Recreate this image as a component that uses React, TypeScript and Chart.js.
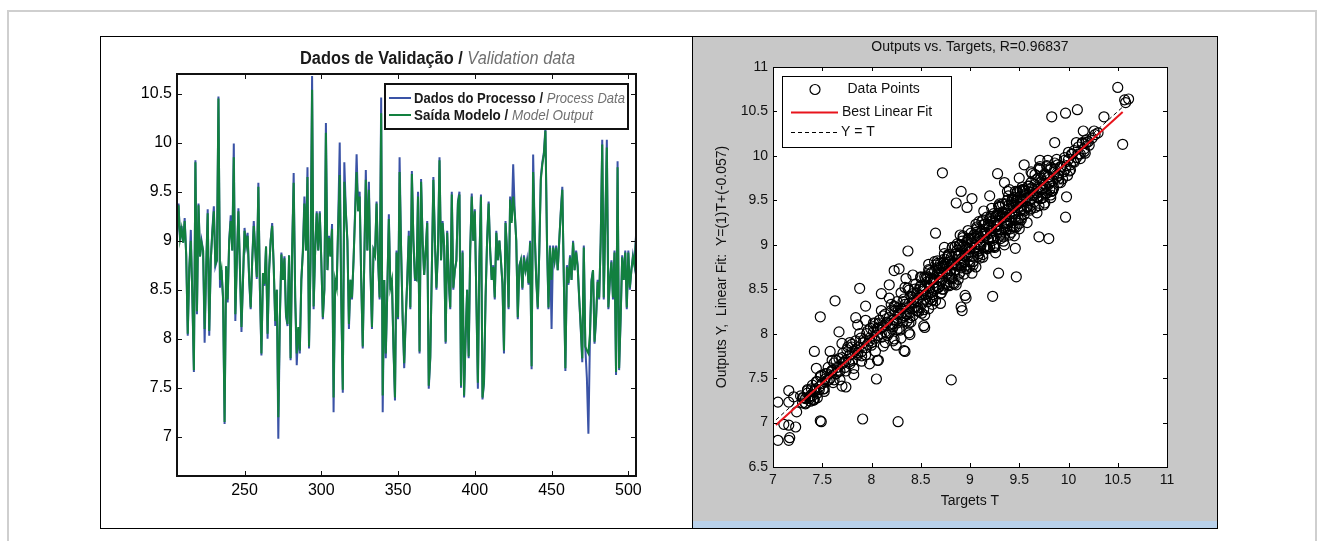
import React, { useEffect, useLayoutEffect, useRef } from "react";
import { Chart, registerables } from "chart.js";

Chart.register(...registerables);

const FONT = '"Liberation Sans", Arial, Helvetica, sans-serif';

// ---------------- Left chart: validation data ----------------
const FIRST_SAMPLE = 206;
const PROCESS_DATA = [
  9.05, 9.38,
  9.00, 9.15, 8.98, 9.23, 8.85, 8.03, 8.70, 9.11, 8.40, 7.66,
  9.82, 8.25, 9.38, 8.84, 9.00, 8.90, 7.96, 8.70, 9.32, 8.03,
  8.80, 9.10, 9.35, 8.74, 8.80, 10.47, 8.52, 8.70, 8.40, 7.13,
  8.74, 8.37, 9.00, 9.26, 8.90, 9.99, 8.18, 8.80, 9.33, 8.70,
  8.07, 8.60, 9.13, 8.95, 9.08, 8.60, 8.30, 8.80, 9.20, 8.90,
  8.61, 9.59, 8.50, 7.83, 8.67, 8.54, 8.94, 8.00, 8.70, 9.00,
  9.18, 8.74, 8.13, 8.50, 6.98, 8.20, 8.88, 8.60, 8.84, 8.23,
  8.13, 8.85, 7.78, 8.90, 9.69, 8.40, 7.73, 8.10, 7.85, 8.60,
  8.90, 9.45, 8.90, 9.75, 7.90, 8.80, 10.68, 8.30, 8.90, 9.30,
  8.90, 9.30, 8.80, 8.20, 8.50, 10.20, 8.70, 9.05, 8.84, 9.17,
  7.25, 8.60, 8.50, 9.20, 10.00, 8.40, 7.45, 9.80, 9.30, 9.00,
  8.10, 8.60, 8.40, 8.80, 9.30, 9.88, 9.30, 9.50, 8.60, 7.90,
  8.80, 9.72, 8.90, 9.60, 8.70, 8.10, 8.90, 8.85, 9.40, 8.80,
  8.40, 10.46, 7.25, 8.60, 7.80, 8.50, 9.27, 8.50, 8.60, 7.90,
  7.37, 8.90, 8.20, 9.85, 8.90, 8.20, 7.70, 8.20, 8.60, 9.10,
  8.30, 9.71, 9.00, 8.60, 8.60, 9.50, 7.85, 9.63, 9.00, 8.65,
  8.90, 9.20, 7.49, 7.80, 8.70, 9.65, 9.00, 8.50, 8.90, 9.85,
  8.80, 9.20, 8.95, 7.95, 9.10, 8.60, 8.30, 9.50, 8.50, 8.70,
  8.80, 9.40, 9.50, 7.50, 8.90, 7.40, 8.00, 8.50, 7.80, 8.90,
  9.48, 9.00, 9.32, 8.40, 7.49, 8.80, 9.47, 7.38, 7.55, 8.40,
  9.00, 9.40, 8.90, 8.60, 8.75, 8.40, 9.10, 8.80, 9.00, 8.80,
  8.55, 7.85, 9.20, 8.90, 8.30, 9.45, 9.20, 9.78, 9.30, 9.00,
  8.20, 8.75, 8.80, 8.50, 8.85, 8.70, 8.80, 8.55, 9.00, 7.69,
  9.88, 9.10, 8.60, 8.30, 8.90, 9.65, 9.80, 9.90, 10.15, 9.00,
  8.30, 8.95, 8.10, 8.95, 8.80, 8.95, 8.70, 9.00, 9.30, 9.55,
  8.60, 7.67, 8.75, 8.55, 8.85, 8.60, 9.00, 8.70, 8.90, 8.75,
  8.40, 8.10, 7.76, 8.95, 7.90, 7.60, 7.03, 8.00, 8.60, 8.70,
  7.95, 8.20, 8.60, 8.40, 9.00, 10.03, 8.40, 9.20, 10.03, 8.30,
  8.60, 8.80, 8.40, 8.90, 7.63, 9.81, 7.68, 8.20, 8.85, 8.60,
  8.90, 8.30, 8.90, 8.50, 8.70, 8.85, 8.75, 9.05,
];
const MODEL_OUTPUT = [
  9.08, 9.36,
  9.02, 9.12, 8.98, 9.20, 8.85, 8.05, 8.72, 9.00, 8.45, 7.68,
  9.80, 8.28, 9.36, 8.84, 8.98, 8.90, 8.10, 8.72, 9.28, 8.08,
  8.80, 9.08, 9.30, 8.76, 8.80, 10.45, 8.60, 8.70, 8.42, 7.15,
  8.74, 8.40, 9.00, 9.20, 8.90, 9.85, 8.25, 8.80, 9.30, 8.72,
  8.12, 8.60, 9.10, 8.95, 9.05, 8.62, 8.32, 8.80, 9.15, 8.90,
  8.63, 9.55, 8.52, 7.85, 8.67, 8.56, 8.94, 8.05, 8.70, 9.00,
  9.15, 8.74, 8.18, 8.50, 7.20, 8.22, 8.86, 8.60, 8.82, 8.25,
  8.15, 8.85, 7.80, 8.90, 9.59, 8.42, 7.85, 8.12, 7.88, 8.60,
  8.88, 9.38, 8.90, 9.65, 7.92, 8.80, 10.54, 8.33, 8.90, 9.28,
  8.90, 9.28, 8.80, 8.22, 8.50, 10.10, 8.70, 9.03, 8.84, 9.12,
  7.40, 8.60, 8.52, 9.15, 9.67, 8.42, 7.48, 9.60, 9.28, 9.00,
  8.15, 8.60, 8.42, 8.80, 9.25, 9.70, 9.30, 9.45, 8.60, 7.92,
  8.80, 9.62, 8.90, 9.52, 8.70, 8.12, 8.90, 8.85, 9.38, 8.80,
  8.42, 10.30, 7.42, 8.60, 7.85, 8.50, 9.22, 8.52, 8.60, 7.92,
  7.40, 8.88, 8.22, 9.70, 8.90, 8.22, 7.75, 8.22, 8.60, 9.05,
  8.32, 9.68, 9.00, 8.62, 8.60, 9.45, 7.87, 9.60, 9.00, 8.65,
  8.90, 9.18, 7.52, 7.82, 8.70, 9.62, 9.00, 8.52, 8.90, 9.82,
  8.80, 9.18, 8.95, 7.97, 9.08, 8.60, 8.32, 9.47, 8.52, 8.70,
  8.80, 9.38, 9.47, 7.52, 8.88, 7.42, 8.02, 8.50, 7.82, 8.90,
  9.45, 9.00, 9.30, 8.42, 7.55, 8.80, 9.45, 7.40, 7.57, 8.42,
  9.00, 9.38, 8.90, 8.60, 8.73, 8.42, 9.08, 8.80, 9.00, 8.80,
  8.57, 7.88, 9.18, 8.90, 8.32, 9.42, 9.18, 9.45, 9.28, 9.00,
  8.22, 8.73, 8.80, 8.52, 8.83, 8.70, 8.78, 8.57, 8.98, 7.72,
  9.70, 9.08, 8.62, 8.32, 8.88, 9.62, 9.78, 9.88, 10.12, 9.00,
  8.32, 8.93, 8.60, 8.93, 8.80, 8.93, 8.70, 9.00, 9.28, 9.52,
  8.60, 7.70, 8.73, 8.57, 8.83, 8.60, 8.98, 8.70, 8.88, 8.73,
  8.42, 8.12, 7.80, 8.93, 7.92, 7.88, 7.85, 8.05, 8.58, 8.70,
  7.97, 8.22, 8.58, 8.42, 8.98, 9.98, 8.42, 9.18, 9.95, 8.32,
  8.60, 8.78, 8.42, 8.88, 7.66, 9.75, 7.70, 8.22, 8.83, 8.60,
  8.88, 8.32, 8.88, 8.52, 8.70, 8.83, 8.75, 9.03,
];
const LEFT_X_RANGE = [206, 505];
const LEFT_Y_RANGE = [6.6, 10.7];
const LEFT_X_TICKS = [250, 300, 350, 400, 450, 500];
const LEFT_Y_TICKS = [7, 7.5, 8, 8.5, 9, 9.5, 10, 10.5];
const LEFT_TITLE = ["Dados de Validação / ", "Validation data"];
const LEFT_LEGEND = [
  ["Dados do Processo / ", "Process Data"],
  ["Saída Modelo / ", "Model Output"],
];
const BLUE = "#3a53a6";
const GREEN = "#12803f";

// ---------------- Right chart: regression ----------------
const TARGETS = [
  // outliers and sparse points
  7.05, 7.16, 7.17, 7.11, 7.16, 7.23, 7.24, 7.05, 7.16, 7.16,
  7.21, 7.49, 7.91, 8.27, 7.48, 7.70, 8.05, 8.81, 7.44, 8.07,
  7.42, 7.58, 8.25, 8.34, 8.33, 8.23, 8.38, 8.53, 8.54, 8.39,
  7.67, 7.84, 7.48, 7.63, 7.94, 7.88, 8.92, 8.91, 8.96, 8.95,
  9.23, 9.29, 9.47, 9.46, 8.37, 8.65, 8.86, 8.97, 8.91, 9.02,
  8.72, 9.28, 9.55, 9.71, 9.70, 9.80, 9.97, 9.68, 9.82, 9.98,
  10.01, 10.17, 9.86, 10.15, 10.26, 9.83, 9.97, 10.09, 10.36, 10.55,
  10.50, 10.57, 10.61, 10.58, 9.47, 9.52, 9.58, 9.76, 9.81, 9.20,
  9.35, 9.40, 9.50, 9.35, 9.45, 8.23, 8.28, 8.18, 8.10, 8.35,
  7.33, 7.38, 7.42, 7.40, 7.28, 7.30, 7.35, 7.45, 7.52, 7.60,
  // dense band
  7.30, 7.33, 7.35, 7.37, 7.38, 7.40, 7.41, 7.42, 7.44, 7.45,
  7.47, 7.48, 7.50, 7.52, 7.53, 7.55, 7.56, 7.58, 7.60, 7.61,
  7.62, 7.64, 7.65, 7.67, 7.68, 7.70, 7.71, 7.73, 7.74, 7.75,
  7.77, 7.78, 7.80, 7.81, 7.83, 7.84, 7.86, 7.87, 7.89, 7.90,
  7.92, 7.94,
  7.95, 7.96, 7.98, 7.99, 8.00, 8.02, 8.03, 8.04, 8.06, 8.07,
  8.08, 8.10, 8.11, 8.12, 8.14, 8.15, 8.16, 8.18, 8.19, 8.20,
  8.22, 8.23, 8.24, 8.26, 8.27, 8.28, 8.30, 8.31, 8.32, 8.34,
  8.35, 8.36, 8.38, 8.39, 8.40, 8.41, 8.42, 8.43, 8.45, 8.46,
  8.47, 8.48, 8.49,
  8.50, 8.51, 8.52, 8.53, 8.54, 8.55, 8.56, 8.57, 8.58, 8.59,
  8.60, 8.61, 8.62, 8.63, 8.64, 8.65, 8.66, 8.67, 8.68, 8.69,
  8.70, 8.71, 8.72, 8.73, 8.74, 8.75, 8.76, 8.77, 8.78, 8.79,
  8.80, 8.81, 8.82, 8.83, 8.84, 8.85, 8.86, 8.87, 8.88, 8.89,
  8.90, 8.91, 8.92, 8.93, 8.94, 8.95, 8.96, 8.97, 8.98, 8.99,
  9.00, 9.01, 9.02, 9.03, 9.04, 9.05, 9.06, 9.07, 9.08, 9.09,
  9.10, 9.11, 9.12, 9.13, 9.14, 9.15, 9.16, 9.17, 9.18, 9.19,
  9.20, 9.21, 9.22, 9.23, 9.24, 9.25, 9.26, 9.27, 9.28, 9.29,
  9.30, 9.31, 9.32, 9.33, 9.34, 9.35, 9.36, 9.37, 9.38, 9.39,
  9.40, 9.41, 9.42, 9.43, 9.44, 9.45, 9.46, 9.47, 9.48, 9.49,
  9.50, 9.51, 9.52, 9.53, 9.54, 9.55, 9.56,
  8.55, 8.57, 8.59, 8.61, 8.63, 8.65, 8.67, 8.69, 8.71, 8.73,
  8.75, 8.77, 8.79, 8.81, 8.83, 8.85, 8.87, 8.89, 8.91, 8.93,
  8.95, 8.97, 8.99, 9.01, 9.03, 9.05, 9.07, 9.09, 9.11, 9.13,
  9.15, 9.17, 9.19, 9.21, 9.23, 9.25, 9.27, 9.29, 9.31, 9.33,
  9.35, 9.37, 9.39, 9.41, 9.43, 9.45, 9.47, 9.49, 9.51, 9.53,
  9.55,
  9.57, 9.58, 9.60, 9.61, 9.62, 9.64, 9.65, 9.66, 9.68, 9.69,
  9.70, 9.72, 9.73, 9.74, 9.76, 9.77, 9.78, 9.80, 9.81, 9.82,
  9.84, 9.85, 9.86, 9.88, 9.89, 9.90, 9.92, 9.93, 9.95, 9.96,
  9.97, 9.99, 10.00, 10.02, 10.03, 10.05, 10.06, 10.08, 10.10, 10.12,
  10.14, 10.16, 10.18, 10.21, 10.24, 10.27, 10.30, 9.63, 9.71, 9.79,
  9.75, 9.83,
  7.60, 7.62, 7.64, 7.66, 7.68, 7.70, 7.72, 7.74, 7.76, 7.78,
  7.80, 7.82, 7.84, 7.86, 7.88, 7.90, 7.92, 7.94, 7.96, 7.98,
  8.00, 8.02, 8.04, 8.06, 8.08, 8.10, 8.12, 8.14, 8.16, 8.18,
  8.20, 8.22, 8.24, 8.26, 8.28, 8.30, 8.32, 8.34, 8.36, 8.38,
  8.40, 8.42, 8.44, 8.46, 8.48, 8.50, 8.52, 8.54, 8.56, 8.58,
  8.60, 8.62, 8.64, 8.66, 8.68, 8.70, 8.72, 8.74, 8.76, 8.78,
  8.80, 8.82, 8.84, 8.86, 8.88, 8.90, 8.92, 8.94, 8.96, 8.98,
  9.00, 9.02, 9.04, 9.06, 9.08, 9.10, 9.12, 9.14, 9.16, 9.18,
  9.20, 9.22, 9.24, 9.26, 9.28, 9.30, 9.32, 9.34, 9.36, 9.38,
  9.40, 9.42, 9.44, 9.46, 9.48, 9.50, 9.52, 9.54, 9.56, 9.58,
  9.60, 9.62, 9.64, 9.66, 9.68, 9.70, 9.72, 9.74, 9.76, 9.78,
  9.80, 9.82, 9.84, 9.86, 9.88, 9.90, 9.92, 9.94, 9.96, 9.98,
  10.00, 10.02, 10.04, 10.06, 10.08, 10.10, 10.12, 10.14, 10.16, 10.18,
  10.20,
  8.21, 8.23, 8.25, 8.27, 8.29, 8.31, 8.33, 8.35, 8.37, 8.39,
  8.41, 8.43, 8.45, 8.47, 8.49, 8.51, 8.53, 8.55, 8.57, 8.59,
  8.61, 8.63, 8.65, 8.67, 8.69, 8.71, 8.73, 8.75, 8.77, 8.79,
  8.81, 8.83, 8.85, 8.87, 8.89, 8.91, 8.93, 8.95, 8.97, 8.99,
  9.01, 9.03, 9.05, 9.07, 9.09, 9.11, 9.13, 9.15, 9.17, 9.19,
  9.21, 9.23, 9.25, 9.27, 9.29, 9.31, 9.33, 9.35, 9.37, 9.39,
  9.41, 9.43, 9.45, 9.47, 9.49, 9.51, 9.53, 9.55, 9.57, 9.59,
  9.61, 9.63, 9.65, 9.67, 9.69, 9.71, 9.73, 9.75, 9.77, 9.79,
  7.31, 7.33, 7.35, 7.37, 7.39, 7.41, 7.43, 7.45, 7.47, 7.49,
  7.51, 7.53, 7.55, 7.57, 7.59,
  7.70, 7.74, 7.78, 7.82, 7.86, 7.90, 7.94, 7.98, 8.02, 8.06,
  8.10, 8.14, 8.18, 8.22, 8.26, 8.30, 8.34, 8.38, 8.42, 8.46,
  8.50, 8.54, 8.58, 8.62, 8.66, 8.70, 8.74, 8.78, 8.82, 8.86,
  8.90, 8.94, 8.98, 9.02, 9.06, 9.10, 9.14, 9.18, 9.22, 9.26,
  9.30, 9.34, 9.38, 9.42, 9.46, 9.50, 9.54, 9.58, 9.62, 9.66,
  9.70, 9.74, 9.78, 9.82, 9.86, 9.90,
];
const OUTPUTS = [
  6.80, 6.80, 6.83, 6.98, 6.97, 6.95, 7.12, 7.23, 7.23, 7.36,
  7.29, 7.01, 7.04, 7.01, 7.02, 7.41, 7.49, 7.48, 7.61, 7.70,
  7.80, 7.80, 7.87, 7.80, 7.81, 7.94, 8.01, 8.09, 8.07, 7.99,
  8.02, 8.18, 8.19, 8.37, 8.31, 8.51, 8.26, 8.30, 8.40, 8.43,
  8.42, 8.68, 8.64, 8.96, 8.93, 9.13, 9.47, 9.42, 9.60, 9.52,
  9.81, 9.80, 9.90, 9.95, 9.09, 9.07, 9.31, 9.36, 9.53, 9.54,
  9.83, 10.03, 10.15, 10.28, 10.28, 10.44, 10.48, 10.52, 10.44, 10.13,
  10.77, 10.63, 10.64, 10.60, 9.20, 9.30, 9.43, 9.47, 9.62, 9.55,
  9.70, 9.62, 9.75, 9.00, 9.10, 8.71, 8.73, 8.55, 8.45, 8.62,
  7.27, 7.24, 7.26, 7.30, 7.30, 7.22, 7.33, 7.28, 7.35, 7.70,
  7.28, 7.22, 7.36, 7.27, 7.30, 7.42, 7.25, 7.35, 7.46, 7.33,
  7.40, 7.52, 7.44, 7.38, 7.55, 7.47, 7.62, 7.50, 7.58, 7.45,
  7.67, 7.55, 7.62, 7.72, 7.58, 7.66, 7.78, 7.62, 7.70, 7.82,
  7.68, 7.76, 7.88, 7.70, 7.80, 7.92, 7.76, 7.85, 7.95, 7.80,
  7.90, 7.84,
  8.00, 7.88, 7.95, 8.06, 7.90, 8.02, 7.94, 8.12, 7.98, 8.05,
  8.15, 7.96, 8.08, 8.20, 8.02, 8.12, 7.98, 8.18, 8.10, 8.26,
  8.08, 8.16, 8.30, 8.12, 8.22, 8.06, 8.28, 8.18, 8.36, 8.20,
  8.30, 8.14, 8.34, 8.24, 8.42, 8.28, 8.20, 8.38, 8.30, 8.46,
  8.26, 8.40, 8.50,
  8.54, 8.33, 8.48, 8.27, 8.64, 8.44, 8.58, 8.36, 8.72, 8.51,
  8.46, 8.69, 8.38, 8.61, 8.70, 8.37, 8.66, 8.79, 8.52, 8.63,
  8.79, 8.59, 8.50, 8.76, 8.90, 8.57, 8.73, 8.67, 8.89, 8.54,
  8.81, 8.86, 8.62, 8.78, 8.69, 8.98, 8.77, 8.94, 8.61, 8.88,
  9.00, 8.74, 8.85, 9.08, 8.81, 8.97, 8.73, 9.03, 8.88, 8.95,
  8.81, 9.13, 9.02, 8.77, 9.08, 8.97, 9.14, 8.92, 8.87, 9.26,
  9.08, 8.99, 9.15, 8.89, 9.23, 9.10, 8.98, 9.31, 9.07, 9.20,
  8.98, 9.26, 9.19, 9.07, 9.35, 8.97, 9.28, 9.20, 9.35, 9.15,
  9.43, 9.11, 9.31, 9.37, 9.09, 9.31, 9.46, 9.24, 9.21, 9.55,
  9.34, 9.31, 9.48, 9.20, 9.44, 9.53, 9.31, 9.28, 9.60, 9.46,
  9.24, 9.54, 9.40, 9.62, 9.49, 9.34, 9.61,
  8.44, 8.63, 8.39, 8.62, 8.57, 8.77, 8.52, 8.67, 8.46, 8.80,
  8.78, 8.68, 8.89, 8.63, 8.79, 8.72, 9.01, 8.67, 8.91, 8.98,
  8.88, 8.73, 9.07, 8.98, 8.87, 9.07, 9.18, 8.90, 8.99, 9.28,
  9.14, 8.96, 9.23, 9.13, 9.32, 8.99, 9.22, 9.35, 9.17, 9.46,
  9.18, 9.35, 9.40, 9.18, 9.50, 9.35, 9.50, 9.29, 9.61, 9.49,
  9.40,
  9.58, 9.42, 9.63, 9.50, 9.70, 9.55, 9.48, 9.68, 9.58, 9.75,
  9.60, 9.52, 9.72, 9.64, 9.80, 9.66, 9.58, 9.76, 9.70, 9.85,
  9.72, 9.64, 9.82, 9.76, 9.90, 9.78, 9.70, 9.88, 9.82, 9.95,
  9.85, 9.78, 9.96, 9.90, 10.02, 9.94, 10.06, 9.98, 10.10, 10.02,
  10.15, 10.08, 10.18, 10.12, 10.20, 10.24, 10.26, 9.80, 9.88, 9.95,
  9.45, 9.60,
  7.59, 7.48, 7.70, 7.57, 7.48, 7.73, 7.68, 7.58, 7.85, 7.66,
  7.85, 7.61, 7.82, 7.78, 8.00, 7.75, 7.93, 7.76, 8.03, 7.92,
  7.87, 8.12, 7.80, 8.06, 8.12, 8.00, 7.86, 8.22, 8.13, 8.01,
  8.33, 8.11, 8.26, 8.04, 8.23, 8.46, 8.13, 8.33, 8.22, 8.49,
  8.13, 8.45, 8.50, 8.37, 8.25, 8.64, 8.50, 8.39, 8.65, 8.28,
  8.61, 8.44, 8.81, 8.54, 8.73, 8.45, 8.68, 8.84, 8.56, 8.80,
  8.71, 8.97, 8.56, 8.90, 8.87, 8.69, 9.04, 8.80, 8.89, 9.16,
  8.76, 9.02, 9.11, 8.75, 9.11, 9.00, 9.26, 8.97, 9.13, 8.96,
  9.29, 9.09, 8.98, 9.32, 9.23, 9.46, 9.13, 9.35, 9.25, 9.50,
  9.11, 9.46, 9.42, 9.28, 9.59, 9.42, 9.28, 9.62, 9.56, 9.43,
  9.66, 9.41, 9.61, 9.79, 9.54, 9.44, 9.75, 9.69, 9.57, 9.88,
  9.68, 9.87, 9.61, 9.85, 9.96, 9.74, 9.88, 9.74, 9.98, 9.89,
  10.04, 9.84, 10.02, 9.93, 10.15, 10.02, 9.97, 10.14, 10.05, 10.15,
  10.16,
  8.05, 8.31, 8.15, 8.29, 8.04, 8.28, 8.39, 8.22, 8.51, 8.18,
  8.41, 8.35, 8.56, 8.29, 8.52, 8.23, 8.48, 8.62, 8.45, 8.71,
  8.41, 8.61, 8.50, 8.82, 8.60, 8.76, 8.50, 8.76, 8.86, 8.62,
  8.77, 8.57, 8.89, 8.76, 8.99, 8.77, 9.10, 8.76, 8.96, 8.92,
  9.07, 8.81, 8.96, 9.20, 8.93, 9.13, 8.86, 9.23, 9.11, 9.06,
  9.32, 9.05, 9.25, 9.17, 9.44, 9.07, 9.36, 9.31, 9.17, 9.44,
  9.27, 9.52, 9.20, 9.45, 9.53, 9.39, 9.65, 9.38, 9.52, 9.66,
  9.39, 9.64, 9.56, 9.73, 9.53, 9.85, 9.62, 9.78, 9.58, 9.76,
  7.28, 7.21, 7.37, 7.29, 7.38, 7.26, 7.38, 7.46, 7.37, 7.53,
  7.38, 7.49, 7.55, 7.48, 7.57,
  7.89, 7.40, 7.90, 7.54, 8.10, 7.69, 8.15, 7.66, 8.08, 7.70,
  8.26, 7.90, 8.40, 7.92, 8.36, 7.95, 8.52, 8.12, 8.66, 8.26,
  8.63, 8.21, 8.78, 8.33, 8.74, 8.34, 8.97, 8.55, 8.97, 8.55,
  9.11, 8.67, 9.07, 8.68, 9.23, 8.85, 9.38, 8.96, 9.41, 8.91,
  9.42, 9.04, 9.60, 9.14, 9.60, 9.18, 9.61, 9.25, 9.82, 9.42,
  9.86, 9.53, 9.89, 9.56, 9.92, 9.70,
];
const FIT_SLOPE = 1;
const FIT_INTERCEPT = -0.057;
const FIT_T_RANGE = [7.03, 10.55];
const RIGHT_X_RANGE = [7, 11];
const RIGHT_Y_RANGE = [6.5, 11];
const RIGHT_X_TICKS = [7, 7.5, 8, 8.5, 9, 9.5, 10, 10.5, 11];
const RIGHT_Y_TICKS = [6.5, 7, 7.5, 8, 8.5, 9, 9.5, 10, 10.5, 11];
const RIGHT_TITLE = "Outputs vs. Targets, R=0.96837";
const RIGHT_X_TITLE = "Targets T";
const RIGHT_Y_TITLE = "Outputs Y,  Linear Fit:  Y=(1)T+(-0.057)";
const RIGHT_LEGEND = ["Data Points", "Best Linear Fit", "Y = T"];
const FIT_RED = "#e8141c";

function boxPlugin(id: string, tickLen: number, boxWidth: number, color: string) {
  return {
    id,
    afterDatasetsDraw(chart: any) {
      const { ctx, chartArea: a, scales } = chart;
      const x = scales.x;
      const y = scales.y;
      ctx.save();
      ctx.strokeStyle = color;
      ctx.lineWidth = boxWidth;
      const off = boxWidth % 2 === 1 ? 0.5 : 0;
      ctx.strokeRect(a.left + off, a.top + off, a.right - a.left, a.bottom - a.top);
      ctx.lineWidth = 1;
      ctx.beginPath();
      x.ticks.forEach((t: any) => {
        const px = Math.round(x.getPixelForValue(t.value)) + 0.5;
        ctx.moveTo(px, a.bottom);
        ctx.lineTo(px, a.bottom - tickLen);
        ctx.moveTo(px, a.top);
        ctx.lineTo(px, a.top + tickLen);
      });
      y.ticks.forEach((t: any) => {
        const py = Math.round(y.getPixelForValue(t.value)) + 0.5;
        ctx.moveTo(a.left, py);
        ctx.lineTo(a.left + tickLen, py);
        ctx.moveTo(a.right, py);
        ctx.lineTo(a.right - tickLen, py);
      });
      ctx.stroke();
      ctx.restore();
    },
  };
}

function LeftChart() {
  const ref = useRef<HTMLCanvasElement>(null);
  useEffect(() => {
    const toPoints = (arr: number[]) => arr.map((v, i) => ({ x: FIRST_SAMPLE + i, y: v }));
    const chart = new Chart(ref.current as HTMLCanvasElement, {
      type: "line",
      data: {
        datasets: [
          { label: LEFT_LEGEND[1].join(""), data: toPoints(MODEL_OUTPUT), borderColor: GREEN, borderWidth: 2, pointRadius: 0, tension: 0, order: 0 },
          { label: LEFT_LEGEND[0].join(""), data: toPoints(PROCESS_DATA), borderColor: BLUE, borderWidth: 2, pointRadius: 0, tension: 0, order: 1 },
        ],
      },
      options: {
        responsive: false,
        animation: false,
        events: [],
        layout: { padding: { left: 0, right: 56, top: 37, bottom: 0 } },
        plugins: { legend: { display: false }, tooltip: { enabled: false }, title: { display: false } },
        scales: {
          x: {
            type: "linear",
            min: LEFT_X_RANGE[0],
            max: LEFT_X_RANGE[1],
            grid: { display: false, drawTicks: false },
            border: { display: false },
            afterBuildTicks: (s: any) => { s.ticks = LEFT_X_TICKS.map((v) => ({ value: v })); },
            afterFit: (s: any) => { s.height = 51; },
            ticks: { autoSkip: false, maxRotation: 0, color: "#000", font: { size: 16, family: FONT }, padding: 5, callback: (v: any) => String(v) },
          },
          y: {
            type: "linear",
            min: LEFT_Y_RANGE[0],
            max: LEFT_Y_RANGE[1],
            grid: { display: false, drawTicks: false },
            border: { display: false },
            afterBuildTicks: (s: any) => { s.ticks = LEFT_Y_TICKS.map((v) => ({ value: v })); },
            afterFit: (s: any) => { s.width = 76; },
            ticks: { autoSkip: false, color: "#000", font: { size: 16, family: FONT }, padding: 5, callback: (v: any) => String(v) },
          },
        },
      },
      plugins: [boxPlugin("leftBox", 5, 2, "#111")],
    } as any);
    return () => chart.destroy();
  }, []);
  return <canvas ref={ref} width={591} height={490} style={{ position: "absolute", left: 101, top: 37, width: 591, height: 490, background: "#fff" }} />;
}

function RightChart() {
  const ref = useRef<HTMLCanvasElement>(null);
  useEffect(() => {
    const n = Math.min(TARGETS.length, OUTPUTS.length);
    const pts = [];
    for (let i = 0; i < n; i++) pts.push({ x: TARGETS[i], y: OUTPUTS[i] });
    const fit = FIT_T_RANGE.map((t) => ({ x: t, y: FIT_SLOPE * t + FIT_INTERCEPT }));
    const ident = FIT_T_RANGE.map((t) => ({ x: t, y: t }));
    const decor = {
      id: "rightDecor",
      beforeDraw(chart: any) {
        const { ctx, chartArea: a } = chart;
        ctx.save();
        ctx.fillStyle = "#fff";
        ctx.fillRect(a.left, a.top, a.right - a.left, a.bottom - a.top);
        ctx.restore();
      },
      afterDraw(chart: any) {
        const { ctx, chartArea: a } = chart;
        ctx.save();
        ctx.fillStyle = "#111";
        ctx.font = `14px ${FONT}`;
        ctx.textAlign = "center";
        ctx.textBaseline = "middle";
        const cx = (a.left + a.right) / 2;
        ctx.fillText(RIGHT_TITLE, cx, a.top - 20);
        ctx.fillText(RIGHT_X_TITLE, cx, a.bottom + 34);
        ctx.save();
        ctx.translate(29, (a.top + a.bottom) / 2);
        ctx.rotate(-Math.PI / 2);
        ctx.fillText(RIGHT_Y_TITLE, 0, 0);
        ctx.restore();
        const bx = a.left + 9.5, by = a.top + 9.5;
        ctx.fillStyle = "#fff";
        ctx.fillRect(bx, by, 169, 71);
        ctx.strokeStyle = "#000";
        ctx.lineWidth = 1;
        ctx.strokeRect(bx, by, 169, 71);
        const rows = [a.top + 22.5, a.top + 45.5, a.top + 65];
        ctx.lineWidth = 1.2;
        ctx.beginPath();
        ctx.arc(a.left + 42, rows[0], 5, 0, Math.PI * 2);
        ctx.stroke();
        ctx.strokeStyle = FIT_RED;
        ctx.lineWidth = 2;
        ctx.beginPath();
        ctx.moveTo(a.left + 18, rows[1]);
        ctx.lineTo(a.left + 65, rows[1]);
        ctx.stroke();
        ctx.strokeStyle = "#000";
        ctx.lineWidth = 1;
        ctx.setLineDash([4, 3]);
        ctx.beginPath();
        ctx.moveTo(a.left + 18, Math.round(rows[2]) + 0.5);
        ctx.lineTo(a.left + 65, Math.round(rows[2]) + 0.5);
        ctx.stroke();
        ctx.setLineDash([]);
        ctx.fillStyle = "#111";
        ctx.textAlign = "left";
        ctx.fillText(RIGHT_LEGEND[0], a.left + 74.5, rows[0]);
        ctx.fillText(RIGHT_LEGEND[1], a.left + 69, rows[1]);
        ctx.fillText(RIGHT_LEGEND[2], a.left + 68, rows[2]);
        ctx.restore();
      },
    };
    const chart = new Chart(ref.current as HTMLCanvasElement, {
      type: "scatter",
      data: {
        datasets: [
          { type: "line", label: RIGHT_LEGEND[1], data: fit, borderColor: FIT_RED, borderWidth: 2, pointRadius: 0, order: 0 },
          { type: "line", label: RIGHT_LEGEND[2], data: ident, borderColor: "#000", borderWidth: 1, borderDash: [4, 3], pointRadius: 0, order: 1 },
          { label: RIGHT_LEGEND[0], data: pts, pointStyle: "circle", pointRadius: 5, borderWidth: 1.2, borderColor: "#000", backgroundColor: "rgba(0,0,0,0)", order: 2 },
        ],
      },
      options: {
        responsive: false,
        animation: false,
        events: [],
        layout: { padding: { left: 0, right: 50, top: 30, bottom: 0 } },
        plugins: { legend: { display: false }, tooltip: { enabled: false }, title: { display: false } },
        scales: {
          x: {
            type: "linear",
            min: RIGHT_X_RANGE[0],
            max: RIGHT_X_RANGE[1],
            grid: { display: false, drawTicks: false },
            border: { display: false },
            afterBuildTicks: (s: any) => { s.ticks = RIGHT_X_TICKS.map((v) => ({ value: v })); },
            afterFit: (s: any) => { s.height = 54; },
            ticks: { autoSkip: false, maxRotation: 0, color: "#111", font: { size: 14, family: FONT }, padding: 5, callback: (v: any) => String(v) },
          },
          y: {
            type: "linear",
            min: RIGHT_Y_RANGE[0],
            max: RIGHT_Y_RANGE[1],
            grid: { display: false, drawTicks: false },
            border: { display: false },
            afterBuildTicks: (s: any) => { s.ticks = RIGHT_Y_TICKS.map((v) => ({ value: v })); },
            afterFit: (s: any) => { s.width = 80; },
            ticks: { autoSkip: false, color: "#111", font: { size: 14, family: FONT }, padding: 5, callback: (v: any) => String(v) },
          },
        },
      },
      plugins: [decor, boxPlugin("rightBox", 4, 1, "#000")],
    } as any);
    return () => chart.destroy();
  }, []);
  return <canvas ref={ref} width={524} height={484} style={{ position: "absolute", left: 693, top: 37, width: 524, height: 484 }} />;
}

// Text squeezed horizontally to the reference's condensed face
function Squeezed({ width, style, children }: { width: number; style: any; children: any }) {
  const ref = useRef<HTMLDivElement>(null);
  useLayoutEffect(() => {
    const el = ref.current;
    if (!el) return;
    el.style.transform = "none";
    const w = el.getBoundingClientRect().width;
    if (w > 0) el.style.transform = `scaleX(${width / w})`;
  }, [width]);
  return (
    <div ref={ref} style={{ position: "absolute", whiteSpace: "nowrap", transformOrigin: "0 50%", ...style }}>
      {children}
    </div>
  );
}

export default function App() {
  const italic = { fontStyle: "italic", fontWeight: "normal", color: "#707070" };
  return (
    <div style={{ position: "absolute", left: 0, top: 0, width: 1320, height: 541, overflow: "hidden", background: "#fff", fontFamily: FONT }}>
      <div style={{ position: "absolute", left: 7, top: 10, width: 1310, height: 540, boxSizing: "border-box", borderTop: "2px solid #cfcfcf", borderLeft: "2px solid #cfcfcf", borderRight: "2px solid #cfcfcf" }} />
      <div style={{ position: "absolute", left: 100, top: 36, width: 1118, height: 493, boxSizing: "border-box", border: "1px solid #000", background: "#fff" }} />
      <div style={{ position: "absolute", left: 693, top: 37, width: 524, height: 491, background: "#c8c8c8" }} />
      <div style={{ position: "absolute", left: 693, top: 521, width: 524, height: 7, background: "#b9d1ea" }} />
      <div style={{ position: "absolute", left: 692, top: 36, width: 1, height: 493, background: "#000" }} />
      <LeftChart />
      <RightChart />
      <Squeezed width={275} style={{ left: 300, top: 48, font: `bold 18px ${FONT}`, lineHeight: "20px", color: "#1a1a1a" }}>
        {LEFT_TITLE[0]}
        <span style={italic}>{LEFT_TITLE[1]}</span>
      </Squeezed>
      <div style={{ position: "absolute", left: 384, top: 83, width: 245, height: 47, boxSizing: "border-box", border: "2px solid #111", background: "#fff" }}>
        {LEFT_LEGEND.map((row, i) => (
          <React.Fragment key={i}>
            <div style={{ position: "absolute", left: 3, top: 12 + i * 17, width: 22, height: 2, background: i === 0 ? BLUE : GREEN }} />
            <Squeezed width={i === 0 ? 211 : 179} style={{ left: 28, top: 5 + i * 17, font: `bold 15px ${FONT}`, lineHeight: "16px", color: "#1a1a1a" }}>
              {row[0]}
              <span style={italic}>{row[1]}</span>
            </Squeezed>
          </React.Fragment>
        ))}
      </div>
    </div>
  );
}
